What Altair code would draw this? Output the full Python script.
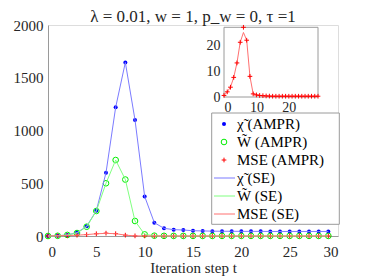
import altair as alt
import pandas as pd

# ---------------- data ----------------
t = list(range(30))
chi_ampr = [0, 2, 10, 32, 92, 240, 600, 1220, 1645, 1100, 375, 126, 73, 60, 57,
            50, 48, 46, 45, 45, 44, 44, 44, 43, 43, 43, 43, 43, 43, 43]
chi_se = [0, 2, 10, 32, 92, 240, 600, 1220, 1645, 1100, 375, 126, 73, 60, 57,
          50, 48, 46, 45, 45, 44, 44, 44, 43, 43, 43, 43, 43, 43, 43]
w_ampr = [0, 2, 10, 28, 88, 237, 500, 720, 535, 142, 15, 3, 1.5, 1, 1,
          1, 1, 1, 1, 1, 1, 1, 1, 1, 1, 1, 1, 1, 1, 1]
w_se = [0, 2, 10, 28, 88, 237, 500, 720, 535, 142, 15, 3, 1.5, 1, 1,
        1, 1, 1, 1, 1, 1, 1, 1, 1, 1, 1, 1, 1, 1, 1]
mse_ampr = [0.6, 2.0, 3.8, 7.6, 13.2, 21.2, 27.0, 22.0, 8.0, 1.2, 0.8, 0.6, 0.5, 0.4, 0.35,
            0.3, 0.3, 0.3, 0.3, 0.3, 0.3, 0.3, 0.3, 0.3, 0.3, 0.3, 0.3, 0.3, 0.3, 0.3]
mse_se = [0.6, 2.0, 3.8, 7.6, 13.2, 21.2, 25.0, 22.0, 8.0, 1.2, 0.8, 0.6, 0.5, 0.4, 0.35,
          0.3, 0.3, 0.3, 0.3, 0.3, 0.3, 0.3, 0.3, 0.3, 0.3, 0.3, 0.3, 0.3, 0.3, 0.3]

legend_labels = ["χ̃ (AMPR)", "W̃ (AMPR)", "MSE (AMPR)", "χ̃ (SE)", "W̃ (SE)", "MSE (SE)"]
x_ticks = [0, 5, 10, 15, 20, 25, 30]
y_ticks = [0, 500, 1000, 1500, 2000]
inset_ticks = [0, 10, 20]
title_text = "λ = 0.01, w = 1, p_w = 0, τ =1"

df = pd.DataFrame({"t": t, "chi_ampr": chi_ampr, "chi_se": chi_se,
                   "w_ampr": w_ampr, "w_se": w_se,
                   "mse_ampr": mse_ampr, "mse_se": mse_se})

# ---------------- styles ----------------
FONT = "Liberation Serif"
AX = "#9a9a9a"
TXT = "#262626"
BLUE, BLUE_L = "#0000ff", "#7b7bff"
GREEN, GREEN_L = "#00ee00", "#80ff80"
RED, RED_L = "#ff0000", "#ff7070"
PLUS = "M-1,0H1M0,-1V1"

W, H = 290, 211
IX0, IX1, IY0, IY1 = 176, 270, 72, 2.3   # inset frame in plot pixels

x_axis = alt.Axis(values=x_ticks, title="Iteration step t", grid=False, ticks=False,
                  domainColor=AX, labelFontSize=15, labelColor=TXT,
                  labelPadding=8, titleFontSize=15, titleColor=TXT,
                  titleFontWeight="normal", titlePadding=1, format="d")
y_axis = alt.Axis(values=y_ticks, title=None, grid=False, ticks=False, domainColor=AX,
                  labelFontSize=15, labelColor=TXT, labelPadding=5,
                  format="d")
xs = alt.Scale(domain=[0, 30], nice=False)
ys = alt.Scale(domain=[0, 2000], nice=False)

base = alt.Chart(df)


def X():
    return alt.X("t:Q", scale=xs, axis=x_axis)


def Y(f):
    return alt.Y(f"{f}:Q", scale=ys, axis=y_axis)


main = alt.layer(
    base.mark_point(filled=True, color=BLUE, size=16, opacity=1).encode(x=X(), y=Y("chi_ampr")),
    base.mark_point(filled=False, color=GREEN, size=32, strokeWidth=1, opacity=1).encode(x=X(), y=Y("w_ampr")),
    base.mark_point(filled=False, shape=PLUS, color=RED, size=22, strokeWidth=1, opacity=1).encode(x=X(), y=Y("mse_ampr")),
    base.mark_line(color=BLUE_L, strokeWidth=1).encode(x=X(), y=Y("chi_se")),
    base.mark_line(color=GREEN_L, strokeWidth=1).encode(x=X(), y=Y("w_se")),
    base.mark_line(color=RED_L, strokeWidth=1).encode(x=X(), y=Y("mse_se")),
)

# ---------------- inset ----------------
ixs = alt.Scale(domain=[0, 29], nice=False, range=[IX0, IX1])
iys = alt.Scale(domain=[0, 27], nice=False, range=[IY0, IY1])
ix_axis = alt.Axis(orient="bottom", offset=-(H - IY0), values=inset_ticks, title=None,
                   grid=False, ticks=False, domain=False, labelFontSize=14,
                   labelColor=TXT, labelPadding=3, format="d")
iy_axis = alt.Axis(orient="left", offset=-IX0, values=inset_ticks, title=None,
                   grid=False, ticks=False, domain=False, labelFontSize=14,
                   labelColor=TXT, labelPadding=4, format="d")

frame_df = pd.DataFrame({"a": [0], "b": [29], "c": [0], "d": [27]})
inset = alt.layer(
    alt.Chart(frame_df).mark_rect(fill="white", stroke=AX, strokeWidth=1).encode(
        x=alt.X("a:Q", scale=ixs, axis=ix_axis), x2="b:Q",
        y=alt.Y("c:Q", scale=iys, axis=iy_axis), y2="d:Q"),
    base.mark_line(color=RED_L, strokeWidth=1).encode(
        x=alt.X("t:Q", scale=ixs, axis=ix_axis), y=alt.Y("mse_se:Q", scale=iys, axis=iy_axis)),
    base.mark_point(filled=False, shape=PLUS, color=RED, size=22, strokeWidth=1, opacity=1).encode(
        x=alt.X("t:Q", scale=ixs, axis=ix_axis), y=alt.Y("mse_ampr:Q", scale=iys, axis=iy_axis)),
)

# ---------------- legend ----------------
ldf = pd.DataFrame({"label": legend_labels})
lys = alt.Scale(type="point", domain=legend_labels, range=[99, 189], padding=0)
LY = alt.Y("label:N", scale=lys, axis=None)
lbase = alt.Chart(ldf)


def only(i):
    return alt.datum.label == legend_labels[i]


legend = alt.layer(
    alt.Chart(pd.DataFrame({"k": [0]})).mark_rect(fill="white", stroke=AX, strokeWidth=1).encode(
        x=alt.value(163.7), x2=alt.value(291.3), y=alt.value(88), y2=alt.value(199.3)),
    lbase.transform_filter(only(0)).mark_point(filled=True, color=BLUE, size=16, opacity=1).encode(
        x=alt.value(176), y=LY),
    lbase.transform_filter(only(1)).mark_point(filled=False, color=GREEN, size=32, strokeWidth=1, opacity=1).encode(
        x=alt.value(176), y=LY),
    lbase.transform_filter(only(2)).mark_point(filled=False, shape=PLUS, color=RED, size=22, strokeWidth=1, opacity=1).encode(
        x=alt.value(176), y=LY),
    lbase.transform_filter(only(3)).mark_rule(color=BLUE_L, strokeWidth=1).encode(
        x=alt.value(166), x2=alt.value(187), y=LY),
    lbase.transform_filter(only(4)).mark_rule(color=GREEN_L, strokeWidth=1).encode(
        x=alt.value(166), x2=alt.value(187), y=LY),
    lbase.transform_filter(only(5)).mark_rule(color=RED_L, strokeWidth=1).encode(
        x=alt.value(166), x2=alt.value(187), y=LY),
    lbase.mark_text(align="left", baseline="middle", fontSize=15, color="black").encode(
        x=alt.value(189), y=LY, text="label:N"),
)

chart = alt.layer(main, inset, legend).resolve_scale(
    x="independent", y="independent"
).properties(
    width=W, height=H,
    autosize=alt.AutoSizeParams(type="none"),
    padding={"left": 40, "top": 17, "right": 28, "bottom": 44},
    title=alt.TitleParams(text=title_text, fontSize=17, fontWeight="normal",
                          color=TXT, anchor="middle", frame="group", offset=6, dy=14),
).configure_view(stroke=None).configure(font=FONT).configure_axis(
    labelFont=FONT, titleFont=FONT).configure_title(font=FONT).configure_text(font=FONT)

chart.save("out.html", embed_options={"renderer": "svg", "actions": False})
